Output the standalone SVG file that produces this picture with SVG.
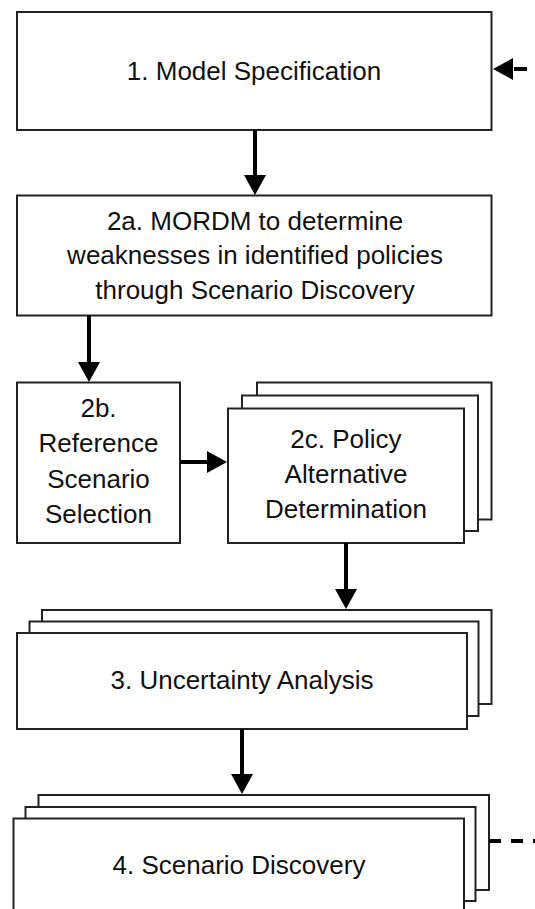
<svg xmlns="http://www.w3.org/2000/svg" width="535" height="909" viewBox="0 0 535 909">
<style>
.box{fill:#fff;stroke:#222;stroke-width:2}
.t{font-family:"Liberation Sans",Arial,sans-serif;font-size:26px;fill:#111;text-anchor:middle}
.conn{stroke:#000;stroke-width:4;fill:none}
.dash{stroke:#000;stroke-width:4;fill:none}
</style>
<defs>
<marker id="ah" markerUnits="userSpaceOnUse" markerWidth="20" markerHeight="22" refX="10" refY="11" orient="auto" viewBox="0 0 20 22">
<path d="M0,0 L20,11 L0,22 Z" fill="#000"/>
</marker>
</defs>
<rect width="535" height="909" fill="#fff"/>
<g id="n1">
<rect class="box" x="17" y="12" width="474.5" height="118"/>
<text class="t" x="254" y="80">1. Model Specification</text>
</g>
<g id="n2a">
<rect class="box" x="17" y="195.5" width="474.5" height="120"/>
<text class="t" x="255" y="230">2a. MORDM to determine</text>
<text class="t" x="255" y="264">weaknesses in identified policies</text>
<text class="t" x="255" y="299">through Scenario Discovery</text>
</g>
<g id="n2b">
<rect class="box" x="17" y="382.5" width="163" height="160.5"/>
<text class="t" x="98.5" y="417">2b.</text>
<text class="t" x="98.5" y="452">Reference</text>
<text class="t" x="98.5" y="488">Scenario</text>
<text class="t" x="98.5" y="523">Selection</text>
</g>
<g id="n2c">
<rect class="box" x="257" y="382.5" width="234.5" height="137"/>
<rect class="box" x="242" y="395.5" width="236" height="135.5"/>
<rect class="box" x="228" y="408.5" width="236" height="134.5"/>
<text class="t" x="346" y="448">2c. Policy</text>
<text class="t" x="346" y="483">Alternative</text>
<text class="t" x="346" y="518">Determination</text>
</g>
<g id="n3">
<rect class="box" x="42" y="610" width="449.5" height="94"/>
<rect class="box" x="29.5" y="621.5" width="449" height="94.5"/>
<rect class="box" x="17" y="633" width="450" height="96"/>
<text class="t" x="242" y="689">3. Uncertainty Analysis</text>
</g>
<g id="n4">
<rect class="box" x="38.5" y="795" width="450.5" height="95"/>
<rect class="box" x="25.5" y="807" width="450" height="94"/>
<rect class="box" x="13.5" y="818.5" width="450.5" height="97"/>
<text class="t" x="239" y="874">4. Scenario Discovery</text>
</g>
<g id="connectors">
<line class="conn" x1="255" y1="130" x2="255" y2="185" marker-end="url(#ah)"/>
<line class="conn" x1="89" y1="315.5" x2="89" y2="372" marker-end="url(#ah)"/>
<line class="conn" x1="180" y1="462" x2="217" y2="462" marker-end="url(#ah)"/>
<line class="conn" x1="346" y1="543" x2="346" y2="599" marker-end="url(#ah)"/>
<line class="conn" x1="242" y1="729" x2="242" y2="784" marker-end="url(#ah)"/>
<line class="dash" x1="549" y1="69" x2="503" y2="69" stroke-dasharray="13 9" marker-end="url(#ah)"/>
<line class="dash" x1="489" y1="841" x2="550" y2="841" stroke-dasharray="12 10"/>
</g>
</svg>
